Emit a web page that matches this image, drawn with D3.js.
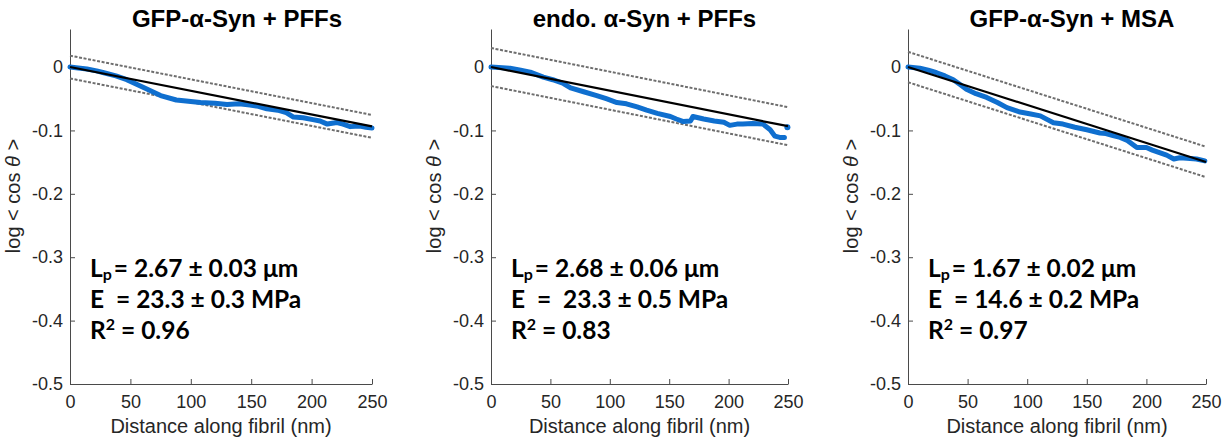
<!DOCTYPE html>
<html>
<head>
<meta charset="utf-8">
<script src="https://cdn.jsdelivr.net/npm/d3@7"></script>
<style>
    body { margin: 0; background: #fff; }
    svg { display: block; }
</style>
</head>
<body>
<script>
// ---- data ----
const titles = ['GFP-\u03b1-Syn + PFFs', 'endo. \u03b1-Syn + PFFs', 'GFP-\u03b1-Syn + MSA'];
const lpValues = ['= 2.67 \u00b1 0.03 \u03bcm', '= 2.68 \u00b1 0.06 \u03bcm', '= 1.67 \u00b1 0.02 \u03bcm'];
const eValues = ['  = 23.3 \u00b1 0.3 MPa', '  =  23.3 \u00b1 0.5 MPa', '  = 14.6 \u00b1 0.2 MPa'];
const r2Values = [' = 0.96', ' = 0.83', ' = 0.97'];
// linear fit (value at 0 nm and at 250 nm) and half width of the dashed band
const fitStart = [0, 0, 0];
const fitEnd = [-0.0936, -0.0933, -0.1497];
const bandHalf = [0.018, 0.030, 0.024];

const xTicks = [0, 50, 100, 150, 200, 250];
const yTicks = [0, -0.1, -0.2, -0.3, -0.4, -0.5];

// null marks a gap in the measured curve
const dist1 = [0, 5, 14, 22, 28, 38, 47, 56, 64, 75, 88, 98, 108, 120, 130, 140, 149, 156, 163, 172, 179, 185, 193, 201, 207, 213, 221, 226, 232, 240, 245, 250];
const logcos1 = [0, -0.001, -0.003, -0.006, -0.009, -0.014, -0.020, -0.028, -0.035, -0.045, -0.052, -0.054, -0.056, -0.057, -0.059, -0.058, -0.060, -0.062, -0.066, -0.068, -0.072, -0.079, -0.080, -0.083, -0.085, -0.090, -0.0875, -0.090, -0.094, -0.093, -0.095, -0.096];

const dist2 = [0, 16, 25, 33, 44, 52, 61, 67, 78, 89, 97, 106, 114, 123, 131, 140, 151, 156, 162, 168, 170, 179, 188, 196, 201, 207, 212, 220, 229, 235, 239, 243, 247, null, 249.5];
const logcos2 = [0, -0.002, -0.005, -0.008, -0.016, -0.020, -0.026, -0.033, -0.039, -0.045, -0.050, -0.056, -0.058, -0.063, -0.068, -0.073, -0.078, -0.082, -0.086, -0.085, -0.078, -0.082, -0.085, -0.087, -0.092, -0.090, -0.090, -0.089, -0.090, -0.099, -0.109, -0.111, -0.111, null, -0.095];

const dist3 = [0, 10, 17, 24, 31, 38, 44, 49, 57, 66, 75, 83, 94, 103, 111, 117, 122, 130, 140, 150, 161, 166, 172, 178, 184, 192, 200, 205, 211, 217, 223, 228, 234, 242, 249];
const logcos3 = [0, -0.002, -0.005, -0.009, -0.014, -0.020, -0.028, -0.035, -0.042, -0.048, -0.056, -0.064, -0.071, -0.074, -0.077, -0.083, -0.088, -0.090, -0.095, -0.099, -0.104, -0.105, -0.108, -0.111, -0.116, -0.127, -0.127, -0.131, -0.135, -0.139, -0.145, -0.143, -0.144, -0.145, -0.148];

const distances = [dist1, dist2, dist3];
const logcos = [logcos1, logcos2, logcos3];

// ---- layout ----
const width = 1231;
const height = 440;
const plotLefts = [70, 491, 908];
const plotWidths = [302, 297, 298];
const titleShift = [16, 5, 15];
const plotTop = 29;
const plotBottom = 384;
const curveColor = '#0f6fcf';

const svg = d3.select('body').append('svg')
    .attr('width', width)
    .attr('height', height);

const yScale = d3.scaleLinear().domain([-0.5, 0.06]).range([plotBottom, plotTop]);
const tickFormat = d => (d === 0 ? '0' : String(d));

titles.forEach((title, i) => {
    const left = plotLefts[i];
    const xScale = d3.scaleLinear().domain([0, 250]).range([left, left + plotWidths[i]]);

    // axes (MATLAB style: left + bottom only, ticks inside)
    const yAxis = svg.append('g')
        .attr('transform', `translate(${left},0)`)
        .call(d3.axisLeft(yScale).tickValues(yTicks).tickFormat(tickFormat)
            .tickSize(-5).tickSizeOuter(0).tickPadding(7));
    const xAxis = svg.append('g')
        .attr('transform', `translate(0,${plotBottom})`)
        .call(d3.axisBottom(xScale).tickValues(xTicks).tickFormat(tickFormat)
            .tickSize(-5).tickSizeOuter(0).tickPadding(11));
    [yAxis, xAxis].forEach((axis) => {
        axis.attr('font-family', '"Liberation Sans", Arial, sans-serif')
            .attr('font-size', 18);
        axis.selectAll('path, line').attr('stroke', '#4a4a4a');
        axis.selectAll('text').attr('fill', '#262626');
    });

    // dashed band
    [bandHalf[i], -bandHalf[i]].forEach((offset) => {
        svg.append('line')
            .attr('x1', xScale(0))
            .attr('y1', yScale(fitStart[i] + offset))
            .attr('x2', xScale(250))
            .attr('y2', yScale(fitEnd[i] + offset))
            .attr('stroke', '#6e6e6e')
            .attr('stroke-width', 2)
            .attr('stroke-dasharray', '3,1.6');
    });

    // measured curve (segments split at null, lone points as dots)
    const points = d3.zip(distances[i], logcos[i]);
    const line = d3.line()
        .defined(d => d[0] !== null)
        .x(d => xScale(d[0]))
        .y(d => yScale(d[1]));
    svg.append('path')
        .datum(points)
        .attr('d', line)
        .attr('fill', 'none')
        .attr('stroke', curveColor)
        .attr('stroke-width', 5)
        .attr('stroke-linejoin', 'round')
        .attr('stroke-linecap', 'round');
    const lone = points.filter((d, k) => d[0] !== null &&
        (k === 0 || points[k - 1][0] === null) &&
        (k === points.length - 1 || points[k + 1][0] === null));
    svg.selectAll(null)
        .data(lone)
        .enter()
        .append('circle')
        .attr('cx', d => xScale(d[0]))
        .attr('cy', d => yScale(d[1]))
        .attr('r', 3)
        .attr('fill', curveColor);

    // fit line
    svg.append('line')
        .attr('x1', xScale(0))
        .attr('y1', yScale(fitStart[i]))
        .attr('x2', xScale(250))
        .attr('y2', yScale(fitEnd[i]))
        .attr('stroke', '#000')
        .attr('stroke-width', 2.2);

    // title
    svg.append('text')
        .attr('x', left + plotWidths[i] / 2 + titleShift[i])
        .attr('y', 27)
        .attr('text-anchor', 'middle')
        .attr('font-family', '"Liberation Sans", Arial, sans-serif')
        .attr('font-weight', 'bold')
        .attr('font-size', 24)
        .text(title);

    // axis labels
    const yLabel = svg.append('text')
        .attr('transform', `translate(${left - 50},196) rotate(-90)`)
        .attr('text-anchor', 'middle')
        .attr('font-family', '"Liberation Sans", Arial, sans-serif')
        .attr('font-size', 20)
        .attr('fill', '#262626');
    yLabel.append('tspan').text('log < cos ');
    yLabel.append('tspan').attr('font-style', 'italic').text('\u03b8');
    yLabel.append('tspan').text(' >');

    svg.append('text')
        .attr('x', left + plotWidths[i] / 2)
        .attr('y', 433)
        .attr('text-anchor', 'middle')
        .attr('font-family', '"Liberation Sans", Arial, sans-serif')
        .attr('font-size', 20)
        .attr('fill', '#262626')
        .text('Distance along fibril (nm)');

    // annotation block
    const annX = left + 20;
    const annotate = y => svg.append('text')
        .attr('x', annX)
        .attr('y', y)
        .attr('font-family', 'Lato, "Open Sans", sans-serif')
        .attr('font-weight', 'bold')
        .attr('font-size', 24.5)
        .style('white-space', 'pre');
    const lp = annotate(277);
    lp.append('tspan').text('L');
    lp.append('tspan').attr('font-size', 16).attr('dy', 3).text('p');
    lp.append('tspan').attr('dy', -3).attr('dx', 2).text(lpValues[i]);
    annotate(308).text('E' + eValues[i]);
    const r2 = annotate(339);
    r2.append('tspan').text('R');
    r2.append('tspan').attr('font-size', 16).attr('dy', -9).text('2');
    r2.append('tspan').attr('dy', 9).text(r2Values[i]);
});
</script>
</body>
</html>
